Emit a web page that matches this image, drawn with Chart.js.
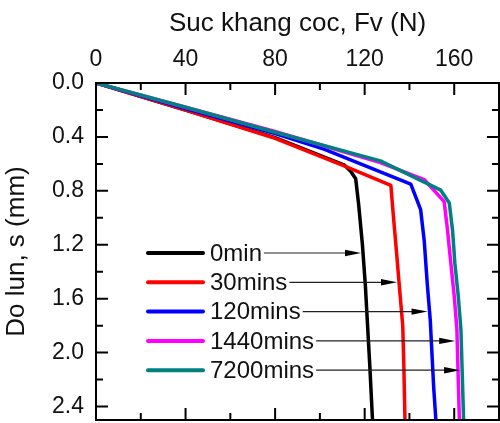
<!DOCTYPE html>
<html>
<head>
<meta charset="utf-8">
<script src="https://cdn.jsdelivr.net/npm/chart.js@4.4.1/dist/chart.umd.min.js"></script>
<style>
html,body{margin:0;padding:0;background:#fff;}
#wrap{width:500px;height:423px;}
</style>
</head>
<body>
<div id="wrap"><canvas id="c" width="500" height="423"></canvas></div>
<script>
// ---- data ----
const seriesLabels = ['0min', '30mins', '120mins', '1440mins', '7200mins'];
const seriesColors = ['#000000', '#ff0000', '#0000ff', '#ff00ff', '#008080'];

// Resistance Fv (N) and settlement s (mm) for each series
const force0   = [0, 40, 80, 111, 113.5, 116, 117.3, 119, 120.3, 121.3, 122.3, 123.5];
const settle0  = [0, 0.2, 0.405, 0.61, 0.65, 0.71, 0.9, 1.2, 1.5, 1.8, 2.1, 2.5];

const force30  = [0, 40, 80, 110, 131.7, 132.9, 134.2, 135.4, 137, 137.5, 138];
const settle30 = [0, 0.2, 0.41, 0.61, 0.76, 1.0, 1.25, 1.49, 1.8, 2.1, 2.5];

const force120  = [0, 40, 80, 101.8, 127, 140.6, 145, 146.6, 148, 149.3, 150.8, 151.8];
const settle120 = [0, 0.19, 0.375, 0.49, 0.66, 0.75, 0.94, 1.17, 1.5, 1.76, 2.25, 2.5];

const force1440  = [0, 40, 80, 127, 146.6, 155.5, 157, 158.5, 160, 161.2, 162.3];
const settle1440 = [0, 0.18, 0.36, 0.59, 0.716, 0.88, 1.09, 1.34, 1.58, 1.83, 2.5];

const force7200  = [0, 40, 80, 127, 154, 157.8, 159.3, 160.3, 161.8, 163, 164.2];
const settle7200 = [0, 0.18, 0.365, 0.578, 0.795, 0.89, 1.1, 1.34, 1.58, 1.83, 2.5];

const xTitle = 'Suc khang coc, Fv (N)';
const yTitle = 'Do lun, s (mm)';
const xLabelValues = [0, 40, 80, 120, 160];
const yLabelValues = [0.0, 0.4, 0.8, 1.2, 1.6, 2.0, 2.4];

const forces  = [force0, force30, force120, force1440, force7200];
const settles = [settle0, settle30, settle120, settle1440, settle7200];

const FONT = "'Liberation Sans', Arial, sans-serif";
const TXT = '#111111';

function pts(f, s){ return f.map((v, i) => ({x: v, y: s[i]})); }

const datasets = seriesLabels.map((lab, i) => ({
  label: lab,
  data: pts(forces[i], settles[i]),
  borderColor: seriesColors[i],
  backgroundColor: seriesColors[i],
  borderWidth: 3.5,
  pointRadius: 0,
  showLine: true,
  tension: 0,
  borderJoinStyle: 'round',
  borderCapStyle: 'round',
  order: seriesLabels.length - i
}));

function isLabel(v, list){ return list.some(t => Math.abs(t - v) < 1e-6); }

function noPad(s){ s.paddingTop = 0; s.paddingBottom = 0; s.paddingLeft = 0; s.paddingRight = 0; }

const overlay = {
  id: 'overlay',
  afterDatasetsDraw(chart){
    const ctx = chart.ctx, ca = chart.chartArea;
    const lx0 = ca.left + 52, lx1 = ca.left + 107, tx = ca.left + 114;
    const row0 = ca.top + 170, dy = 29.3;
    ctx.save();
    ctx.font = '24px ' + FONT;
    ctx.textBaseline = 'middle';
    chart.data.datasets.forEach((ds, i) => {
      const y = row0 + i * dy;
      ctx.strokeStyle = ds.borderColor;
      ctx.lineWidth = 4;
      ctx.lineCap = 'round';
      ctx.beginPath(); ctx.moveTo(lx0, y); ctx.lineTo(lx1, y); ctx.stroke();
      ctx.fillStyle = TXT;
      ctx.fillText(ds.label, tx, y + 1);
      const tw = ctx.measureText(ds.label).width;
      const els = chart.getDatasetMeta(i).data;
      let cx = null;
      for (let k = 0; k < els.length - 1; k++) {
        const a = els[k], b = els[k + 1];
        if ((a.y - y) * (b.y - y) <= 0 && a.y !== b.y) {
          cx = a.x + (b.x - a.x) * (y - a.y) / (b.y - a.y);
          break;
        }
      }
      if (cx === null) return;
      const start = tx + tw + 2, tip = cx - 2, head = 16, hw = 3.2;
      ctx.strokeStyle = '#222';
      ctx.lineWidth = 1.2;
      ctx.lineCap = 'butt';
      ctx.beginPath(); ctx.moveTo(start, y); ctx.lineTo(tip - head + 2, y); ctx.stroke();
      ctx.fillStyle = '#000';
      ctx.beginPath();
      ctx.moveTo(tip, y);
      ctx.lineTo(tip - head, y - hw);
      ctx.lineTo(tip - head, y + hw);
      ctx.closePath(); ctx.fill();
    });
    ctx.restore();
  },
  afterDraw(chart){
    const ctx = chart.ctx, ca = chart.chartArea;
    const xs = chart.scales.x, ys = chart.scales.y;
    ctx.save();
    ctx.strokeStyle = '#000';
    ctx.lineWidth = 2;
    ctx.lineCap = 'butt';
    const major = 12, minor = 7;
    xs.ticks.forEach(t => {
      const px = xs.getPixelForValue(t.value);
      const len = isLabel(t.value, xLabelValues) ? major : minor;
      ctx.beginPath();
      ctx.moveTo(px, ca.top); ctx.lineTo(px, ca.top + len);
      ctx.moveTo(px, ca.bottom); ctx.lineTo(px, ca.bottom - len);
      ctx.stroke();
    });
    ys.ticks.forEach(t => {
      const py = ys.getPixelForValue(t.value);
      const len = isLabel(t.value, yLabelValues) ? major : minor;
      ctx.beginPath();
      ctx.moveTo(ca.left, py); ctx.lineTo(ca.left + len, py);
      ctx.moveTo(ca.right, py); ctx.lineTo(ca.right - len, py);
      ctx.stroke();
    });
    ctx.strokeRect(ca.left, ca.top, ca.right - ca.left, ca.bottom - ca.top);
    ctx.restore();
  }
};

new Chart(document.getElementById('c'), {
  type: 'scatter',
  data: { datasets },
  options: {
    responsive: false,
    devicePixelRatio: 1,
    animation: false,
    layout: { padding: { left: 0, right: 1, top: 0, bottom: 3 } },
    plugins: { legend: { display: false }, tooltip: { enabled: false } },
    scales: {
      x: {
        type: 'linear', position: 'top', min: 0, max: 180,
        grid: { display: false, drawTicks: false },
        border: { display: false },
        ticks: {
          stepSize: 20, autoSkip: false, maxRotation: 0, padding: 10,
          color: TXT, font: { family: FONT, size: 23 },
          callback: v => isLabel(v, xLabelValues) ? String(v) : ''
        },
        title: { display: true, text: xTitle, color: TXT, font: { family: FONT, size: 26 }, padding: { top: 8, bottom: 0 } },
        afterFit(s){ s.height = 83; noPad(s); }
      },
      y: {
        type: 'linear', reverse: true, min: 0, max: 2.5,
        grid: { display: false, drawTicks: false },
        border: { display: false },
        ticks: {
          stepSize: 0.2, includeBounds: false, autoSkip: false, padding: 12,
          color: TXT, font: { family: FONT, size: 23 },
          callback: v => isLabel(v, yLabelValues) ? v.toFixed(1) : ''
        },
        title: { display: true, text: yTitle, color: TXT, font: { family: FONT, size: 26 }, padding: { top: 1, bottom: 0 } },
        afterFit(s){ s.width = 96; noPad(s); }
      }
    }
  },
  plugins: [overlay]
});
</script>
</body>
</html>
